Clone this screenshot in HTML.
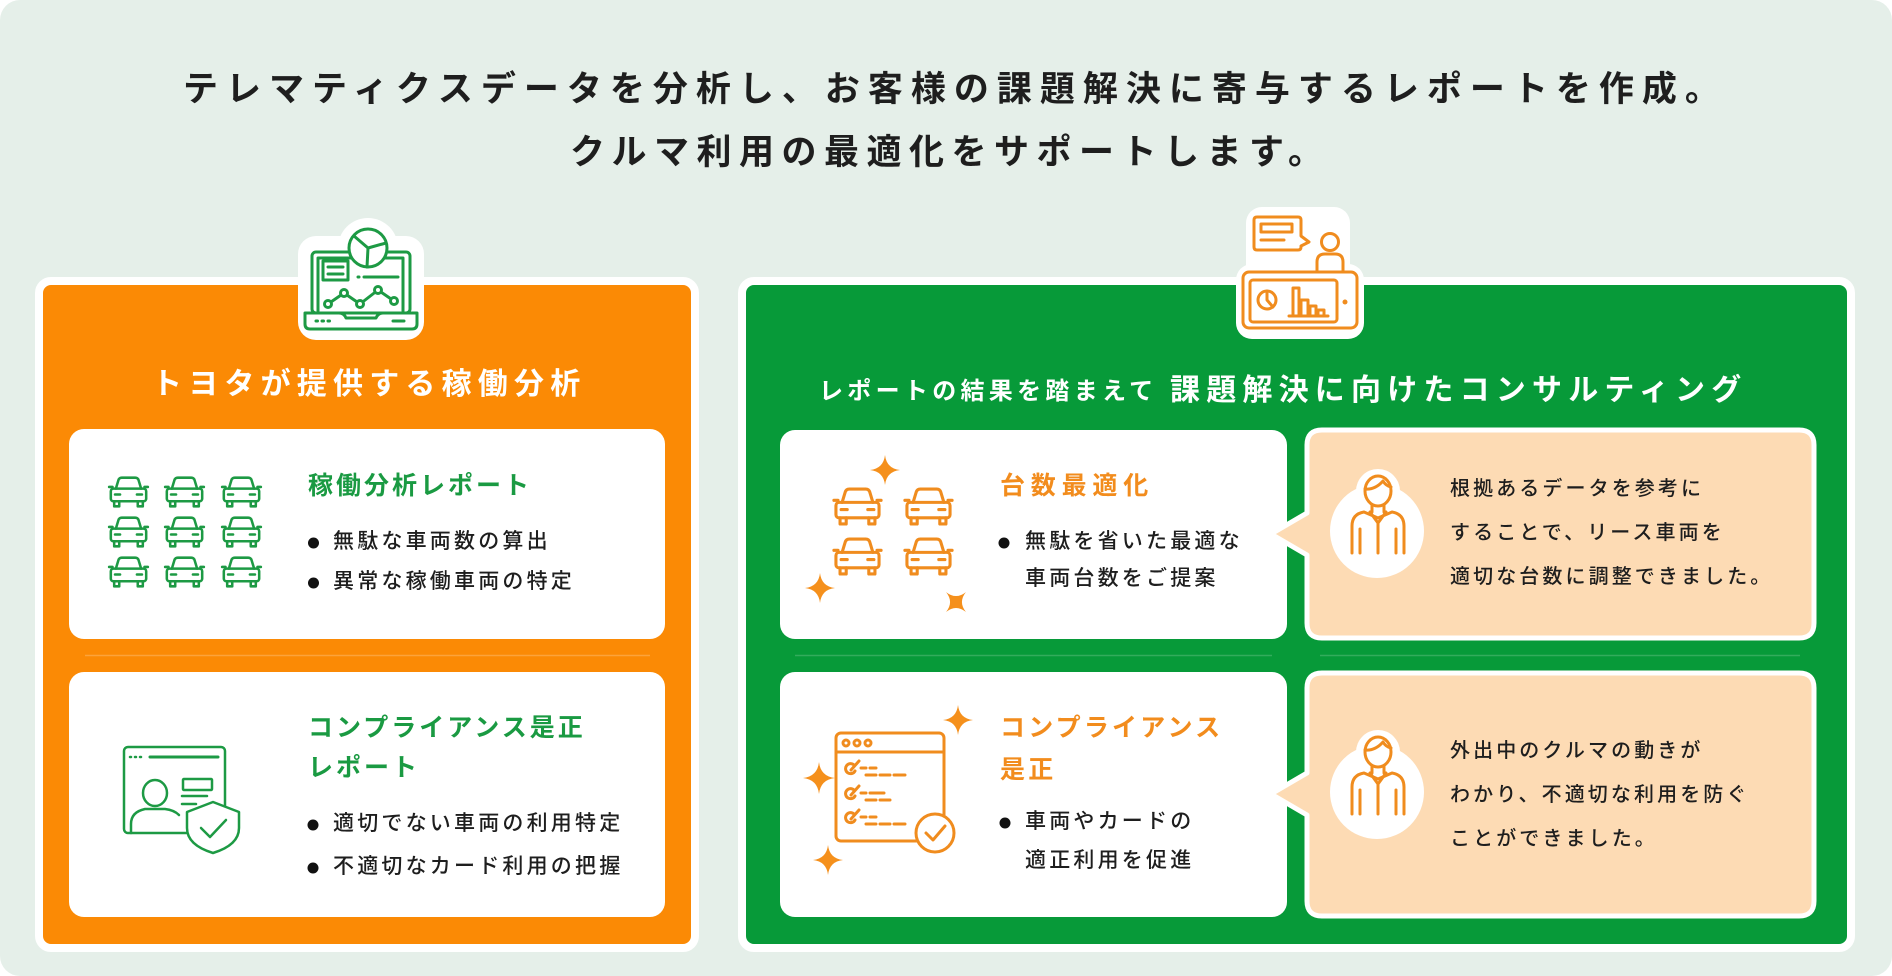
<!DOCTYPE html>
<html lang="ja">
<head>
<meta charset="utf-8">
<style>
  html,body{margin:0;padding:0;}
  body{width:1892px;height:976px;position:relative;overflow:hidden;background:#ffffff;
       font-family:"Liberation Sans","Noto Sans CJK JP",sans-serif;}
  svg.bg{position:absolute;left:0;top:0;z-index:1;}
  .t{position:absolute;z-index:2;white-space:nowrap;}
  .main{font-size:35px;line-height:35px;font-weight:700;color:#1e1e1e;}
  .hdr{font-size:30px;line-height:30px;letter-spacing:6.2px;font-weight:700;color:#fff;}
  .hdr2{font-size:24px;line-height:24px;letter-spacing:4.3px;font-weight:700;color:#fff;}
  .ctg{font-size:25px;line-height:25px;letter-spacing:3px;font-weight:700;color:#1a9a42;}
  .cto{font-size:25px;line-height:25px;letter-spacing:3.2px;font-weight:700;color:#f28c1d;}
  .bl{font-size:21px;line-height:21px;letter-spacing:3.2px;font-weight:500;color:#1e1e1e;}
  .bb{font-size:20px;line-height:44px;letter-spacing:3.1px;font-weight:500;color:#1e1e1e;}
</style>
</head>
<body>
<svg class="bg" width="1892" height="976" viewBox="0 0 1892 976" xmlns="http://www.w3.org/2000/svg">
  <defs>
    <symbol id="car" viewBox="0 0 48 38">
      <g fill="none" stroke="currentColor" stroke-width="3" stroke-linejoin="round" stroke-linecap="round">
        <path d="M9 15 L12 5 Q13 2 16 2 H32 Q35 2 36 5 L39 15"/>
        <rect x="3" y="15" width="42" height="15" rx="3"/>
        <path d="M1 13 H5 M43 13 H47"/>
        <path d="M8 22 H14 M34 22 H40"/>
        <path d="M7 30 V36 H13 V30 M35 30 V36 H41 V30"/>
      </g>
    </symbol>
    <path id="star" d="M0,-1 Q0.1,-0.1 1,0 Q0.1,0.1 0,1 Q-0.1,0.1 -1,0 Q-0.1,-0.1 0,-1Z"/>
  </defs>

  <!-- background -->
  <rect x="0" y="0" width="1892" height="976" rx="20" fill="#e5efe9"/>

  <!-- panels -->
  <rect x="39" y="281" width="656" height="667" rx="12" fill="#fb8a05" stroke="#ffffff" stroke-width="8"/>
  <rect x="742" y="281" width="1109" height="667" rx="12" fill="#079a39" stroke="#ffffff" stroke-width="8"/>

  <!-- faint separators -->
  <path d="M85 655.5 H650" stroke="#ffffff" stroke-opacity="0.22" stroke-width="1.5"/>
  <path d="M795 655.5 H1272 M1320 655.5 H1800" stroke="#ffffff" stroke-opacity="0.18" stroke-width="1.5"/>

  <!-- white cards -->
  <rect x="69" y="429" width="596" height="210" rx="15" fill="#ffffff"/>
  <rect x="69" y="672" width="596" height="245" rx="15" fill="#ffffff"/>
  <rect x="780" y="430" width="507" height="209" rx="15" fill="#ffffff"/>
  <rect x="780" y="672" width="507" height="245" rx="15" fill="#ffffff"/>

  <!-- speech bubbles -->
  <path d="M1322 430 H1799 Q1814 430 1814 445 V623 Q1814 638 1799 638 H1322 Q1307 638 1307 623 V555 L1271 534 L1307 513 V445 Q1307 430 1322 430 Z"
        fill="#fddbb4" stroke="#ffffff" stroke-width="5" stroke-linejoin="round"/>
  <path d="M1322 673 H1799 Q1814 673 1814 688 V901 Q1814 916 1799 916 H1322 Q1307 916 1307 901 V815 L1271 794 L1307 773 V688 Q1307 673 1322 673 Z"
        fill="#fddbb4" stroke="#ffffff" stroke-width="5" stroke-linejoin="round"/>

  <!-- bubble persons -->
  <g>
    <circle cx="1377" cy="531" r="47" fill="#fff"/>
    <circle cx="1378" cy="491" r="22" fill="#fff"/>
    <g fill="none" stroke="#f08c1e" stroke-width="3" stroke-linejoin="round" stroke-linecap="round">
      <ellipse cx="1378" cy="491" rx="13" ry="15"/>
      <path d="M1365 489 Q1375 490 1383 481 Q1386 486 1391 487"/>
      <path d="M1372 505 V512 M1384 505 V512"/>
      <path d="M1352 553 V526 Q1352 514 1364 512 L1378 518 L1392 512 Q1404 514 1404 526 V553"/>
      <path d="M1370 512 L1378 523 L1386 512 M1378 523 V553"/>
      <path d="M1360 529 V553 M1396 529 V553"/>
    </g>
  </g>
  <g>
    <circle cx="1377" cy="792" r="47" fill="#fff"/>
    <circle cx="1378" cy="752" r="22" fill="#fff"/>
    <g fill="none" stroke="#f08c1e" stroke-width="3" stroke-linejoin="round" stroke-linecap="round">
      <ellipse cx="1378" cy="752" rx="13" ry="15"/>
      <path d="M1365 750 Q1375 751 1383 742 Q1386 747 1391 748"/>
      <path d="M1372 766 V773 M1384 766 V773"/>
      <path d="M1352 814 V787 Q1352 775 1364 773 L1378 779 L1392 773 Q1404 775 1404 787 V814"/>
      <path d="M1370 773 L1378 784 L1386 773 M1378 784 V814"/>
      <path d="M1360 790 V814 M1396 790 V814"/>
    </g>
  </g>

  <!-- left icon badge (laptop) -->
  <rect x="298" y="236" width="126" height="104" rx="18" fill="#fff"/>
  <circle cx="368" cy="248" r="30" fill="#fff"/>
  <g fill="none" stroke="#1d9a44" stroke-width="3" stroke-linejoin="round" stroke-linecap="round">
    <rect x="312" y="252" width="98" height="61" rx="4"/>
    <path d="M318 311 V258 H403 V311"/>
    <path d="M305 313 H339 Q344 313 346 318 H376 Q378 313 383 313 H417 V324 Q417 329 412 329 H310 Q305 329 305 324 Z"/>
    <rect x="323" y="261" width="25" height="19"/>
    <path d="M328 267 H343 M328 274 H343"/>
    <path d="M358 277 H359 M364 277 H398"/>
    <polyline points="328,304 344,293 360,304 378,290 394,301"/>
    <circle cx="328" cy="304" r="3.5" fill="#fff"/>
    <circle cx="344" cy="293" r="3.5" fill="#fff"/>
    <circle cx="360" cy="304" r="3.5" fill="#fff"/>
    <circle cx="378" cy="290" r="3.5" fill="#fff"/>
    <circle cx="394" cy="301" r="3.5" fill="#fff"/>
    <path d="M316 321 h1.5 M322 321 h1.5 M328 321 h1.5 M393 321 H404"/>
    <circle cx="368" cy="248" r="19" fill="#fff"/>
    <path d="M368 248 L354 236 M368 248 L386 243 M368 248 L367 267"/>
  </g>

  <!-- right icon badge (consult) -->
  <rect x="1246" y="207" width="104" height="76" rx="16" fill="#fff"/>
  <rect x="1236" y="264" width="128" height="75" rx="16" fill="#fff"/>
  <g fill="none" stroke="#f08c1e" stroke-width="3" stroke-linejoin="round" stroke-linecap="round">
    <path d="M1257 217 H1298 Q1301 217 1301 220 V236 L1309 242 L1301 246 V247 Q1301 250 1298 250 H1257 Q1254 250 1254 247 V220 Q1254 217 1257 217 Z"/>
    <rect x="1261" y="224" width="31" height="8"/>
    <path d="M1261 240 H1284"/>
    <circle cx="1330" cy="242" r="8.5"/>
    <path d="M1317 272 V262 Q1317 254 1325 254 H1335 Q1343 254 1343 262 V272"/>
    <rect x="1243" y="272" width="114" height="56" rx="6"/>
    <rect x="1250" y="280" width="87" height="42" rx="3"/>
    <circle cx="1267" cy="300" r="9"/>
    <path d="M1267 291 V300 L1273 307"/>
    <path d="M1289 316 H1328 M1293 316 V288 H1299 V316 M1301 316 V300 H1308 V316 M1310 316 V306 H1316 V316 M1318 316 V310 H1324 V316"/>
  </g>
  <circle cx="1345" cy="302" r="2.5" fill="#f08c1e"/>

  <!-- left cars 3x3 -->
  <g style="color:#1d9a44">
    <use href="#car" x="106" y="476" width="45" height="32" preserveAspectRatio="none"/>
    <use href="#car" x="162" y="476" width="45" height="32" preserveAspectRatio="none"/>
    <use href="#car" x="219" y="476" width="45" height="32" preserveAspectRatio="none"/>
    <use href="#car" x="106" y="516" width="45" height="32" preserveAspectRatio="none"/>
    <use href="#car" x="162" y="516" width="45" height="32" preserveAspectRatio="none"/>
    <use href="#car" x="219" y="516" width="45" height="32" preserveAspectRatio="none"/>
    <use href="#car" x="106" y="556" width="45" height="32" preserveAspectRatio="none"/>
    <use href="#car" x="162" y="556" width="45" height="32" preserveAspectRatio="none"/>
    <use href="#car" x="219" y="556" width="45" height="32" preserveAspectRatio="none"/>
  </g>

  <!-- right cars 2x2 -->
  <g style="color:#f08c1e">
    <use href="#car" x="832" y="487" width="51" height="39" preserveAspectRatio="none"/>
    <use href="#car" x="903" y="487" width="51" height="39" preserveAspectRatio="none"/>
    <use href="#car" x="832" y="537" width="51" height="39" preserveAspectRatio="none"/>
    <use href="#car" x="903" y="537" width="51" height="39" preserveAspectRatio="none"/>
  </g>

  <!-- sparkles -->
  <g fill="#f5901c">
    <use href="#star" transform="translate(885,470) scale(15)"/>
    <use href="#star" transform="translate(820,588) scale(15)"/>
    <use href="#star" transform="translate(956,602) rotate(45) scale(14)"/>
    <use href="#star" transform="translate(958,720) scale(15)"/>
    <use href="#star" transform="translate(819,778) scale(16)"/>
    <use href="#star" transform="translate(828,860) scale(15)"/>
  </g>

  <!-- left compliance icon -->
  <g fill="none" stroke="#1d9a44" stroke-width="2.5" stroke-linejoin="round" stroke-linecap="round">
    <rect x="124" y="747" width="101" height="86" rx="4"/>
    <path d="M130 757 h1 M135 757 h1 M140 757 h1"/>
    <path d="M150 757 H218" stroke-width="3"/>
    <ellipse cx="155" cy="793" rx="12" ry="13"/>
    <path d="M131 833 V824 Q131 812 145 809 H165 Q174 810 179 815"/>
    <rect x="183" y="779" width="29" height="11" rx="1"/>
    <path d="M182 796 H207 M182 804 H196"/>
    <path d="M213 802 L239 812 V828 Q239 845 213 853 Q187 845 187 828 V812 Z" fill="#fff"/>
    <path d="M201 828 L210 837 L226 820"/>
  </g>

  <!-- right checklist icon -->
  <g fill="none" stroke="#f08c1e" stroke-width="3" stroke-linejoin="round" stroke-linecap="round">
    <rect x="836" y="733" width="108" height="108" rx="5"/>
    <path d="M836 752 H944"/>
    <circle cx="846" cy="743" r="3"/><circle cx="857" cy="743" r="3"/><circle cx="868" cy="743" r="3"/>
    <path d="M854 765 A5 5 0 1 0 855 771 M851 770 L859 761"/>
    <path d="M861 768 H866 M870 768 H876 M866 775 H876 M880 775 H890 M894 775 H905"/>
    <path d="M854 790 A5 5 0 1 0 855 796 M851 795 L859 786"/>
    <path d="M861 793 H866 M870 793 H884 M866 800 H876 M880 800 H890"/>
    <path d="M854 814 A5 5 0 1 0 855 820 M851 819 L859 810"/>
    <path d="M861 817 H866 M870 817 H876 M866 824 H876 M880 824 H890 M894 824 H905"/>
    <circle cx="935" cy="833" r="19" fill="#fff"/>
    <path d="M926 833 L933 840 L945 826"/>
  </g>

  <!-- bullets -->
  <g fill="#111">
    <circle cx="313.5" cy="543" r="5.5"/>
    <circle cx="313.5" cy="583" r="5.5"/>
    <circle cx="313" cy="825" r="5.5"/>
    <circle cx="313" cy="868" r="5.5"/>
    <circle cx="1004" cy="543" r="5.5"/>
    <circle cx="1005" cy="823" r="5.5"/>
  </g>
</svg>

<!-- main title -->
<div class="t main" style="left:183px;top:72px;letter-spacing:8.0px;">テレマティクスデータを分析し、お客様の課題解決に寄与するレポートを作成。</div>
<div class="t main" style="left:570px;top:135px;letter-spacing:7.5px;">クルマ利用の最適化をサポートします。</div>

<!-- left panel -->
<div class="t hdr" style="left:152px;top:370px;">トヨタが提供する稼働分析</div>
<div class="t ctg" style="left:308px;top:474px;">稼働分析レポート</div>
<div class="t bl" style="left:333px;top:531px;">無駄な車両数の算出</div>
<div class="t bl" style="left:333px;top:571px;">異常な稼働車両の特定</div>
<div class="t ctg" style="left:308px;top:716px;">コンプライアンス是正</div>
<div class="t ctg" style="left:308px;top:756px;">レポート</div>
<div class="t bl" style="left:333px;top:813px;">適切でない車両の利用特定</div>
<div class="t bl" style="left:333px;top:856px;">不適切なカード利用の把握</div>

<!-- right panel -->
<div class="t hdr2" style="left:819px;top:380px;">レポートの結果を踏まえて</div>
<div class="t hdr" style="left:1170px;top:376px;">課題解決に向けたコンサルティング</div>

<div class="t cto" style="left:1000px;top:474px;letter-spacing:5.8px;">台数最適化</div>
<div class="t bl" style="left:1025px;top:531px;">無駄を省いた最適な</div>
<div class="t bl" style="left:1025px;top:568px;">車両台数をご提案</div>

<div class="t cto" style="left:1000px;top:716px;">コンプライアンス</div>
<div class="t cto" style="left:1000px;top:758px;">是正</div>
<div class="t bl" style="left:1025px;top:811px;">車両やカードの</div>
<div class="t bl" style="left:1025px;top:850px;">適正利用を促進</div>

<div class="t bb" style="left:1450px;top:467px;">根拠あるデータを参考に<br>することで、リース車両を<br>適切な台数に調整できました。</div>
<div class="t bb" style="left:1450px;top:729px;">外出中のクルマの動きが<br>わかり、不適切な利用を防ぐ<br>ことができました。</div>
</body>
</html>
